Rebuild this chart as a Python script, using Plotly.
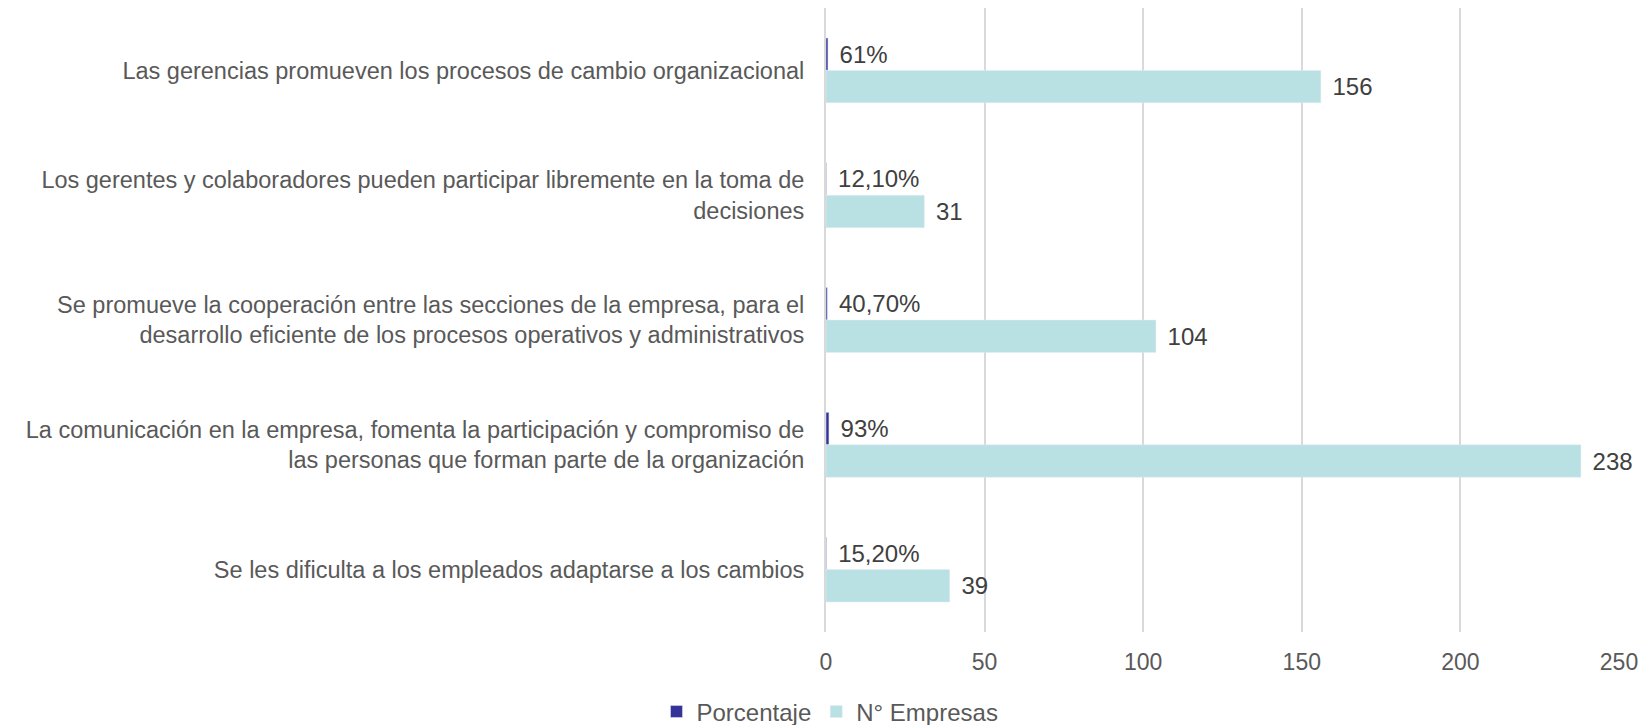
import plotly.graph_objects as go

# ── Datos ─────────────────────────────────────────────────────────────────────

categorias = [
    "Las gerencias promueven los procesos de cambio organizacional",
    "Los gerentes y colaboradores pueden participar libremente en la toma de<br>decisiones",
    "Se promueve la cooperación entre las secciones de la empresa, para el<br>desarrollo eficiente de los procesos operativos y administrativos",
    "La comunicación en la empresa, fomenta la participación y compromiso de<br>las personas que forman parte de la organización",
    "Se les dificulta a los empleados adaptarse a los cambios",
]
porcentaje = [0.61, 0.121, 0.407, 0.93, 0.152]
porcentaje_txt = ["61%", "12,10%", "40,70%", "93%", "15,20%"]
empresas = [156, 31, 104, 238, 39]

x_ticks = [0, 50, 100, 150, 200, 250]

GRIS = "#595959"
FUENTE = "Liberation Sans, Arial, sans-serif"
PAD = "\u00a0\u200a"

# ── Gráfico ───────────────────────────────────────────────────────────────────
# la página deja 8px de margen en el body: la figura mide 8px menos

fig = go.Figure()
fig.add_trace(go.Bar(
    y=categorias, x=porcentaje, orientation="h", name="Porcentaje",
    marker_color="#333399",
    text=[PAD + t for t in porcentaje_txt], textposition="outside",
    cliponaxis=False,
    textfont=dict(size=24, color="#404040", family=FUENTE),
))
fig.add_trace(go.Bar(
    y=categorias, x=empresas, orientation="h", name="N° Empresas",
    marker_color="#B9E0E3",
    text=[PAD + str(v) for v in empresas], textposition="outside",
    cliponaxis=False,
    textfont=dict(size=24, color="#404040", family=FUENTE),
))

fig.update_layout(
    barmode="group", bargap=0.48, bargroupgap=0,
    width=1644, height=717,
    margin=dict(l=818, r=33, t=0, b=93, autoexpand=False),
    plot_bgcolor="white", paper_bgcolor="white",
    font=dict(family=FUENTE, size=24, color=GRIS),
    legend=dict(
        orientation="h", xref="container", x=0.5, xanchor="center",
        yref="paper", y=-0.128, yanchor="middle",
        font=dict(size=24, color=GRIS), traceorder="normal",
        itemwidth=30,
    ),
)
fig.update_xaxes(
    range=[0, 250], tickvals=x_ticks, automargin=False,
    showgrid=True, gridcolor="#D9D9D9", gridwidth=2,
    zeroline=False, showline=False,
    ticks="outside", ticklen=9, tickcolor="rgba(0,0,0,0)",
    tickfont=dict(size=23, color=GRIS),
)
fig.update_yaxes(
    autorange="reversed", showgrid=False, showline=True, automargin=False,
    linecolor="#D9D9D9", linewidth=2,
    ticks="outside", ticklen=15, tickcolor="rgba(0,0,0,0)",
    tickfont=dict(size=23.5, color=GRIS),
)

fig.write_html("out.html")
